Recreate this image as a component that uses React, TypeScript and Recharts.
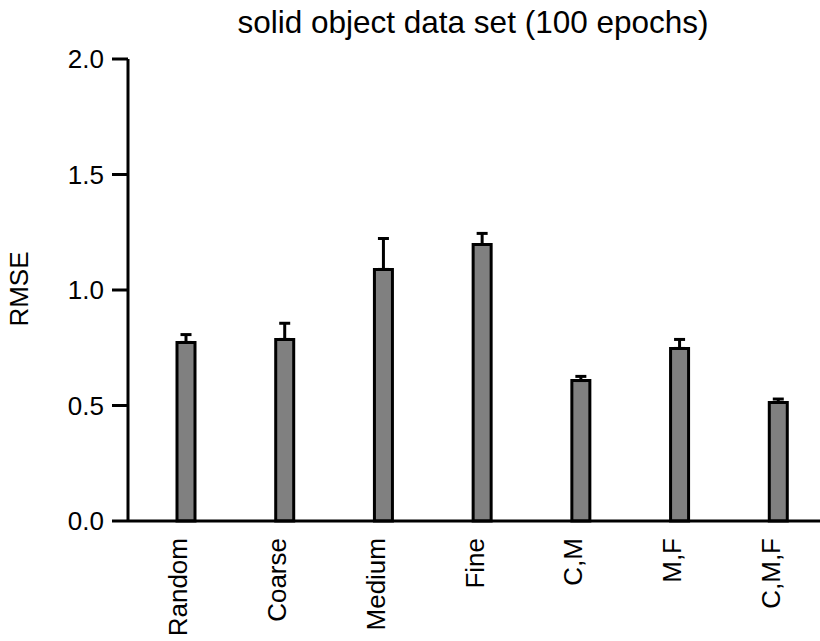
import { Bar, BarChart, ErrorBar, XAxis, YAxis } from "recharts";

const categories = ["Random", "Coarse", "Medium", "Fine", "C,M", "M,F", "C,M,F"];
const rmse = [0.773, 0.786, 1.089, 1.197, 0.608, 0.747, 0.513];
const rmseErr = [0.034, 0.07, 0.134, 0.048, 0.018, 0.039, 0.015];
const yTicks = [0, 0.5, 1, 1.5, 2];

const FONT = '"Liberation Sans", Arial, Helvetica, sans-serif';

// error bars only go up from the bar top
const data = categories.map((name, i) => ({
  name,
  rmse: rmse[i],
  err: [0, rmseErr[i]],
}));

function CategoryTick({ x, y, payload }: { x?: number; y?: number; payload?: { value: string } }) {
  const ty = (y ?? 0) + 17;
  const tx = (x ?? 0) + 1;
  return (
    <text
      x={tx}
      y={ty}
      transform={`rotate(-90 ${tx} ${ty})`}
      textAnchor="end"
      fill="#000"
      fontSize={26}
      fontFamily={FONT}
    >
      {payload?.value}
    </text>
  );
}

export default function App() {
  return (
    <div
      style={{
        position: "absolute",
        left: 0,
        top: 0,
        width: 820,
        height: 641,
        overflow: "hidden",
        background: "#fff",
      }}
    >
      <BarChart
        width={830}
        height={641}
        data={data}
        margin={{ top: 59, right: 2, bottom: 0, left: 0 }}
      >
        <XAxis
          dataKey="name"
          height={120}
          padding={{ left: 9, right: 0 }}
          tickLine={false}
          tickSize={0}
          tickMargin={0}
          interval={0}
          axisLine={{ stroke: "#000", strokeWidth: 3 }}
          tick={<CategoryTick />}
        />
        <YAxis
          width={128}
          domain={[0, 2]}
          ticks={yTicks}
          tickFormatter={(v: number) => v.toFixed(1)}
          tickSize={16}
          tickMargin={8}
          axisLine={{ stroke: "#000", strokeWidth: 3 }}
          tickLine={{ stroke: "#000", strokeWidth: 3 }}
          tick={{ fill: "#000", fontSize: 26, fontFamily: FONT }}
        />
        <Bar
          dataKey="rmse"
          barSize={18}
          fill="#808080"
          stroke="#000"
          strokeWidth={3}
          isAnimationActive={false}
        >
          <ErrorBar
            dataKey="err"
            direction="y"
            width={5.5}
            stroke="#000"
            strokeWidth={3}
            isAnimationActive={false}
          />
        </Bar>
      </BarChart>
      <svg
        width={820}
        height={641}
        style={{ position: "absolute", left: 0, top: 0, pointerEvents: "none" }}
      >
        <text x={473} y={33} textAnchor="middle" fontSize={31.5} fontFamily={FONT} fill="#000">
          solid object data set (100 epochs)
        </text>
        <text
          x={28}
          y={289}
          transform="rotate(-90 28 289)"
          textAnchor="middle"
          fontSize={26}
          fontFamily={FONT}
          fill="#000"
        >
          RMSE
        </text>
      </svg>
    </div>
  );
}
